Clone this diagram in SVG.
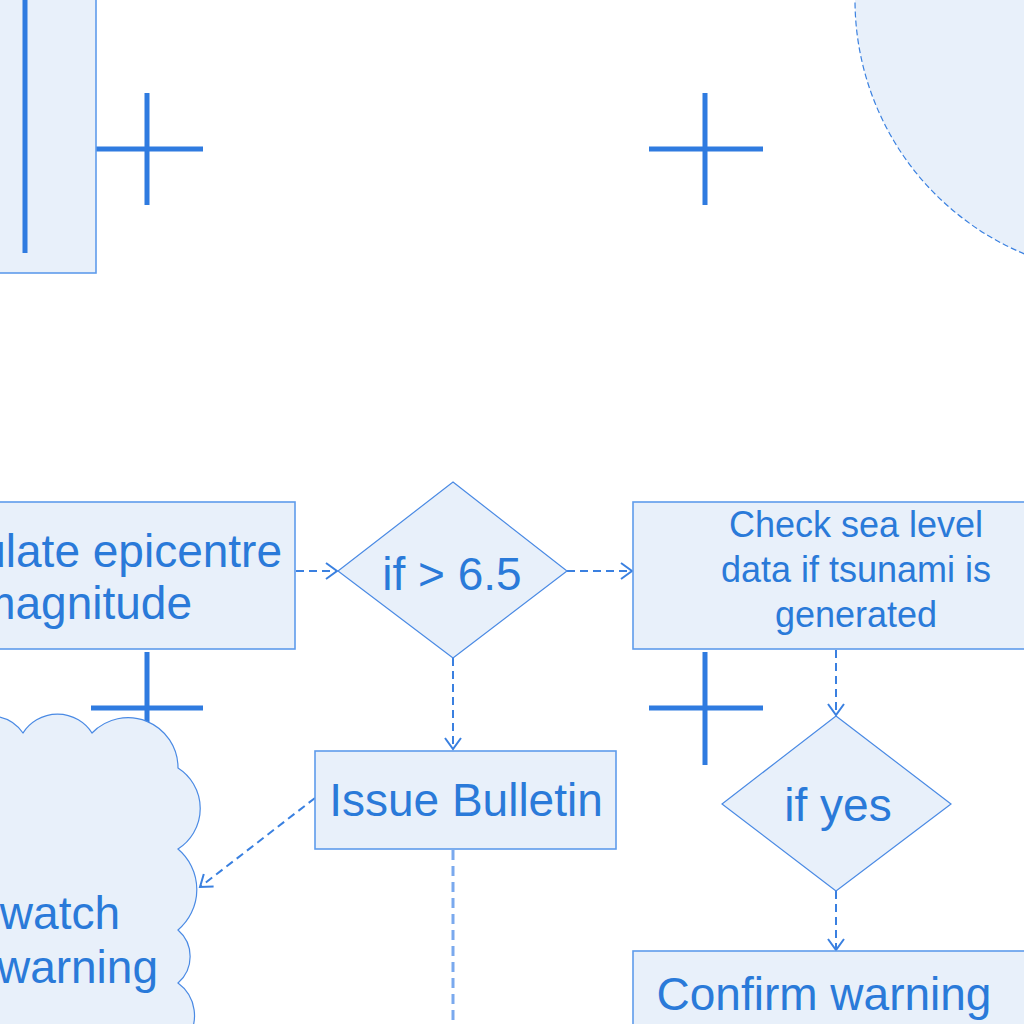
<svg xmlns="http://www.w3.org/2000/svg" width="1024" height="1024" viewBox="0 0 1024 1024">
<style>
.node{fill:#E8F0FA;stroke:#5E9CEC;stroke-width:1.6}
.thin{fill:#E8F0FA;stroke:#4A8AE4;stroke-width:1.2}
.cross{stroke:#2F7BE0;stroke-width:5;fill:none}
.lbl{font-family:"Liberation Sans",Arial,sans-serif;fill:#2A7AD9;font-size:46px}
.sm{font-size:36px}
.conn{stroke:#3A80E0;stroke-width:2;fill:none;stroke-dasharray:8,5}
</style>
<defs>
<marker id="arr" markerUnits="userSpaceOnUse" markerWidth="16" markerHeight="20" refX="12" refY="9" orient="auto" viewBox="0 0 16 18">
<path d="M1,1 L12,9 L1,17" fill="none" stroke="#3A80E0" stroke-width="2"/>
</marker>
</defs>
<rect width="1024" height="1024" fill="#FFFFFF"/>
<g id="markers">
<path class="cross" d="M91,149 H203 M147,93 V205"/>
<path class="cross" d="M649,149 H763 M705,93 V205"/>
<path class="cross" d="M91,708 H203 M147,652 V765"/>
<path class="cross" d="M649,708 H763 M705,652 V765"/>
</g>
<g id="connectors">
<line class="conn" x1="296" y1="571" x2="337" y2="571" marker-end="url(#arr)"/>
<line class="conn" x1="567" y1="571" x2="632" y2="571" marker-end="url(#arr)"/>
<line class="conn" x1="453" y1="658" x2="453" y2="749" marker-end="url(#arr)"/>
<line class="conn" x1="315" y1="798" x2="200" y2="887" marker-end="url(#arr)"/>
<line x1="453" y1="850" x2="453" y2="1024" stroke="#7AA9EE" stroke-width="3" stroke-dasharray="10,6"/>
<line class="conn" x1="836" y1="650" x2="836" y2="715" marker-end="url(#arr)"/>
<line class="conn" x1="836" y1="891" x2="836" y2="950" marker-end="url(#arr)"/>
</g>
<g id="topleft-box">
<rect class="node" x="-10" y="-10" width="106" height="283"/>
<line x1="25" y1="-5" x2="25" y2="253" stroke="#2F7BE0" stroke-width="5"/>
</g>
<g id="topright-circle">
<circle cx="1130" cy="0" r="275" fill="#E8F0FA" stroke="#3A80E0" stroke-width="1.2" stroke-dasharray="6,3"/>
</g>
<g id="epicentre">
<rect class="node" x="-10" y="502" width="305" height="147"/>
<text class="lbl" x="282" y="567" text-anchor="end">Calculate epicentre</text>
<text class="lbl" x="192" y="619" text-anchor="end">magnitude</text>
</g>
<g id="decision1">
<polygon class="thin" points="453,482 567,571 453,658 338,571"/>
<text class="lbl" x="452" y="590" text-anchor="middle">if &gt; 6.5</text>
</g>
<g id="check-sea">
<rect class="node" x="633" y="502" width="446" height="147"/>
<text class="lbl sm" x="856" y="537" text-anchor="middle">Check sea level</text>
<text class="lbl sm" x="856" y="582" text-anchor="middle">data if tsunami is</text>
<text class="lbl sm" x="856" y="627" text-anchor="middle">generated</text>
</g>
<g id="issue-bulletin">
<rect class="node" x="315" y="751" width="301" height="98"/>
<text class="lbl" x="466" y="816" text-anchor="middle">Issue Bulletin</text>
</g>
<g id="cloud">
<path class="thin" d="M-40,1040 L-40,730 A40,40 0 0 1 23,733 A41,41 0 0 1 92,733 A50,50 0 0 1 178,768 A48,48 0 0 1 178,849 A53,53 0 0 1 178,930 A35,35 0 0 1 178,983 A40,40 0 0 1 186,1040 Z"/>
<text class="lbl" x="120" y="929" text-anchor="end">watch</text>
<text class="lbl" x="158" y="983" text-anchor="end">warning</text>
</g>
<g id="decision2">
<polygon class="thin" points="836,716 951,804 836,891 722,804"/>
<text class="lbl" x="838" y="821" text-anchor="middle">if yes</text>
</g>
<g id="confirm">
<rect class="node" x="633" y="951" width="446" height="100"/>
<text class="lbl" x="824" y="1010" text-anchor="middle">Confirm warning</text>
</g>
</svg>
